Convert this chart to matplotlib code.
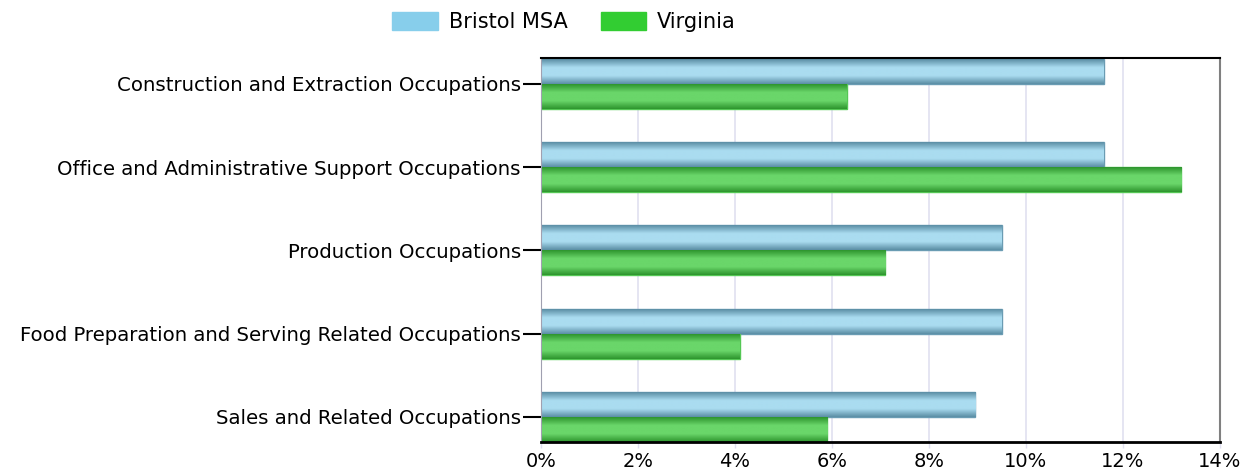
import numpy as np
import matplotlib.pyplot as plt
from matplotlib.patches import Patch
from matplotlib.colors import LinearSegmentedColormap

# Data (percent of employment)
categories = [
    "Construction and Extraction Occupations",
    "Office and Administrative Support Occupations",
    "Production Occupations",
    "Food Preparation and Serving Related Occupations",
    "Sales and Related Occupations",
]
bristol = [11.6, 11.6, 9.5, 9.5, 8.95]
virginia = [6.3, 13.2, 7.1, 4.1, 5.9]
series_names = ["Bristol MSA", "Virginia"]
x_ticks = [0, 2, 4, 6, 8, 10, 12, 14]

plt.rcParams['font.family'] = ['DejaVu Sans']

fig = plt.figure(figsize=(12.56, 4.75), dpi=100)
ax = fig.add_axes([0.4307, 0.0695, 0.5406, 0.8085])

y = np.arange(len(categories))
h = 0.3


def gradient_bars(bars, edge, mid):
    # fake the glossy look: dark edges, light middle, clipped to each bar
    cmap = LinearSegmentedColormap.from_list("g", [edge, mid, mid, edge])
    grad = np.linspace(0, 1, 64).reshape(-1, 1)
    for b in bars:
        x0, y0 = b.get_x(), b.get_y()
        w, hh = b.get_width(), b.get_height()
        im = ax.imshow(grad, cmap=cmap, aspect='auto', interpolation='bilinear',
                       extent=(x0, x0 + w, y0 + hh, y0), zorder=2)
        im.set_clip_path(b)


b1 = ax.barh(y - h / 2, bristol, height=h, color="#8fc3da", edgecolor="#6a9cb3",
             linewidth=1, zorder=2)
b2 = ax.barh(y + h / 2, virginia, height=h, color="#4cc04c", edgecolor="#55c755",
             linewidth=1, zorder=2)
gradient_bars(b1, "#5b8ea5", "#aadcf0")
gradient_bars(b2, "#2e952e", "#6ad66a")

ax.set_xlim(0, 14)
ax.set_ylim(4.3, -0.31)
ax.set_xticks(x_ticks)
ax.set_xticklabels([f"{t}%" for t in x_ticks])
ax.set_yticks(y)
ax.set_yticklabels(categories)
ax.tick_params(axis='y', length=13, width=1.5, color='black', labelsize=14.2, pad=1.5)
ax.tick_params(axis='x', length=4, width=1, color='#e0e0f0', labelsize=14, pad=3)
ax.xaxis.grid(True, color='#e0e0f0', linewidth=1.2, zorder=0)
ax.set_axisbelow(True)

ax.spines['top'].set_color('black')
ax.spines['top'].set_linewidth(1.5)
ax.spines['bottom'].set_color('black')
ax.spines['bottom'].set_linewidth(2)
ax.spines['left'].set_color('#a0a0b0')
ax.spines['right'].set_color('#808080')
ax.spines['right'].set_linewidth(1.5)

handles = [Patch(facecolor="#87ceeb", edgecolor="#87ceeb"),
           Patch(facecolor="#32cd32", edgecolor="#32cd32")]
fig.legend(handles, series_names, loc='upper center', bbox_to_anchor=(0.449, 1.015),
           ncol=2, frameon=False, fontsize=15, handlelength=2.2, handleheight=1.0,
           columnspacing=1.6, handletextpad=0.5)

fig.savefig("out.png", dpi=100)
